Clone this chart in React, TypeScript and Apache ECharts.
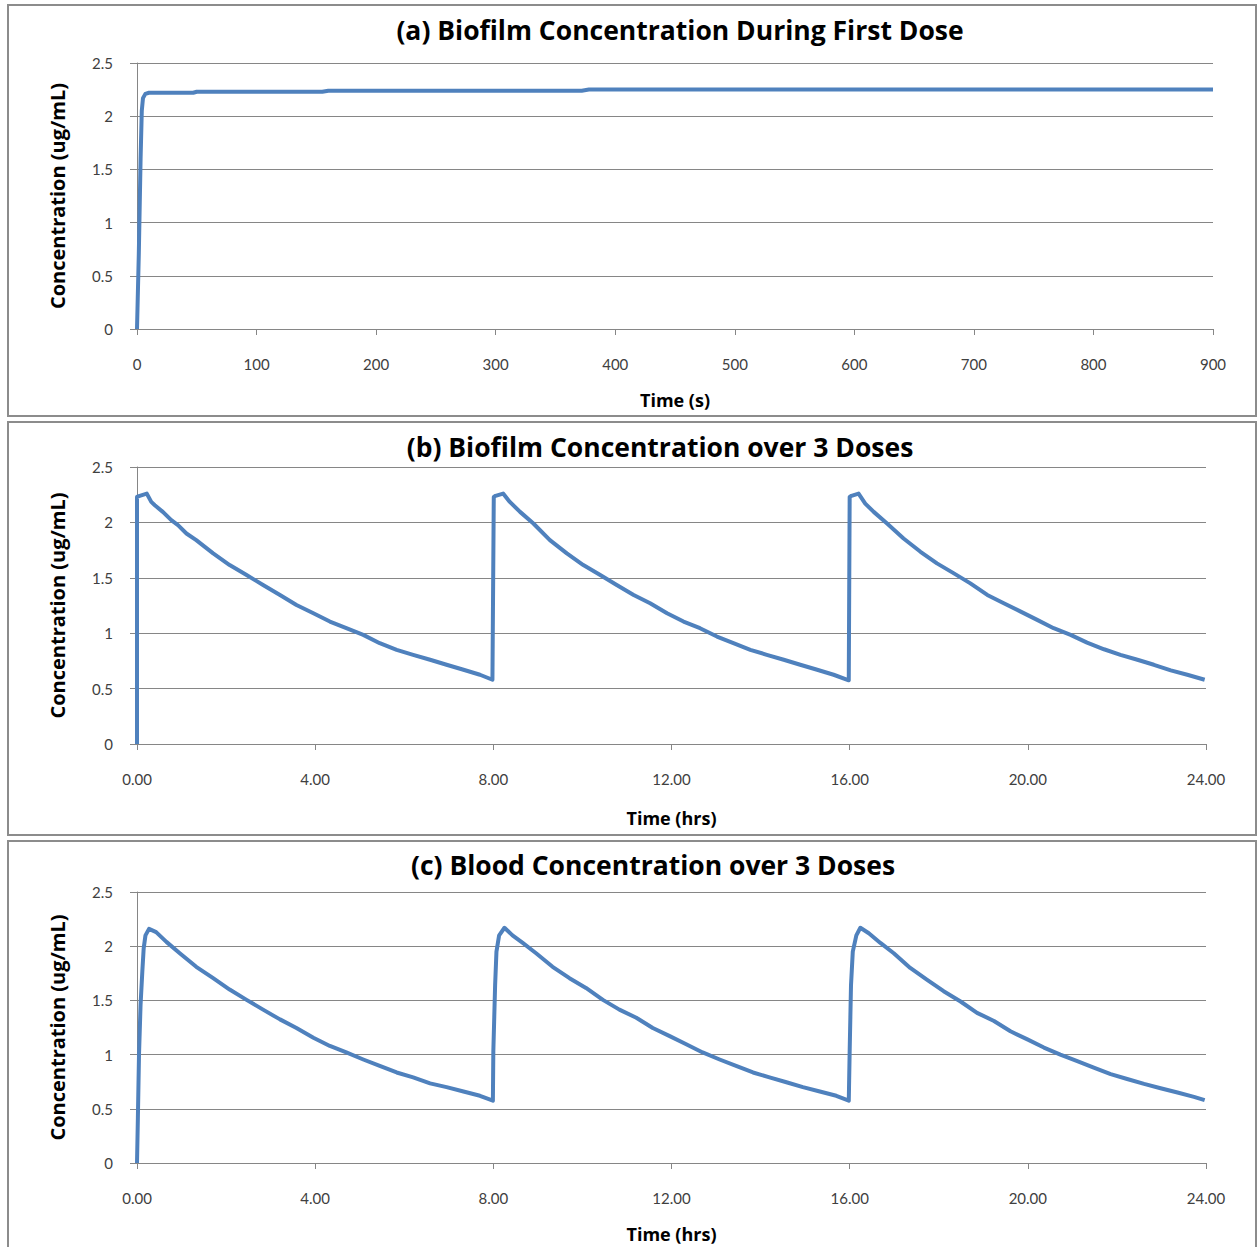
import React, { useEffect, useRef } from "react";
import * as echarts from "echarts";

// ---- Data ----
// (a) Biofilm concentration during first dose: [time (s), concentration (ug/mL)]
const firstDoseBiofilm: [number, number][] = [
  [0, 0], [1.5, 0.7], [3, 1.6], [4, 2.05], [5, 2.17], [7, 2.21], [10, 2.22],
  [47, 2.22], [50, 2.23], [155, 2.23], [160, 2.24], [372, 2.24], [378, 2.25], [900, 2.25],
];

// (b) Biofilm concentration over 3 doses: [time (hrs), concentration]
const biofilmThreeDoses: [number, number][] = [
  [0, 0], [0, 2.23], [0.06, 2.24], [0.22, 2.26], [0.32, 2.185], [0.4, 2.155], [0.58, 2.095],
  [0.77, 2.02], [0.92, 1.975], [1.11, 1.9], [1.33, 1.84], [1.71, 1.72], [2.08, 1.615],
  [2.46, 1.525], [2.83, 1.435], [3.21, 1.345], [3.58, 1.255], [3.96, 1.18], [4.33, 1.105],
  [4.7, 1.045], [5.08, 0.985], [5.45, 0.91], [5.83, 0.85], [6.2, 0.805], [6.58, 0.76],
  [6.95, 0.715], [7.33, 0.67], [7.7, 0.625], [7.98, 0.58],
  [8.01, 2.23], [8.05, 2.24], [8.22, 2.26], [8.37, 2.185], [8.6, 2.095], [8.9, 1.99],
  [9.27, 1.84], [9.65, 1.72], [10.02, 1.615], [10.4, 1.525], [10.77, 1.435], [11.15, 1.345],
  [11.52, 1.27], [11.9, 1.18], [12.27, 1.105], [12.64, 1.045], [13.02, 0.97], [13.39, 0.91],
  [13.77, 0.85], [14.14, 0.805], [14.52, 0.76], [14.89, 0.715], [15.27, 0.67], [15.64, 0.625],
  [15.98, 0.575],
  [16.0, 2.23], [16.04, 2.24], [16.2, 2.26], [16.35, 2.17], [16.54, 2.095], [16.84, 1.99],
  [17.21, 1.855], [17.59, 1.735], [17.96, 1.63], [18.34, 1.54], [18.71, 1.45], [19.09, 1.345],
  [19.46, 1.27], [19.84, 1.195], [20.21, 1.12], [20.58, 1.045], [20.96, 0.985], [21.33, 0.915],
  [21.71, 0.855], [22.08, 0.805], [22.46, 0.76], [22.83, 0.715], [23.21, 0.665], [23.58, 0.625],
  [23.97, 0.58],
];

// (c) Blood concentration over 3 doses: [time (hrs), concentration]
const bloodThreeDoses: [number, number][] = [
  [0, 0], [0.02, 0.42], [0.045, 1.0], [0.08, 1.46], [0.12, 1.77], [0.15, 1.98], [0.19, 2.1],
  [0.27, 2.16], [0.43, 2.13], [0.66, 2.04], [0.96, 1.935], [1.33, 1.81], [1.71, 1.705],
  [2.08, 1.6], [2.46, 1.505], [2.83, 1.415], [3.21, 1.325], [3.58, 1.245], [3.96, 1.155],
  [4.33, 1.08], [4.7, 1.02], [5.08, 0.955], [5.45, 0.895], [5.83, 0.835], [6.2, 0.79],
  [6.58, 0.735], [6.95, 0.7], [7.33, 0.66], [7.7, 0.62], [7.99, 0.575],
  [8.0, 1.03], [8.04, 1.64], [8.07, 1.95], [8.13, 2.1], [8.25, 2.17], [8.43, 2.1], [8.66, 2.03],
  [8.96, 1.935], [9.33, 1.81], [9.71, 1.705], [10.08, 1.615], [10.46, 1.505], [10.83, 1.415],
  [11.21, 1.34], [11.58, 1.245], [11.96, 1.17], [12.33, 1.095], [12.7, 1.02], [13.08, 0.955],
  [13.45, 0.895], [13.83, 0.835], [14.2, 0.79], [14.58, 0.745], [14.95, 0.7], [15.33, 0.66],
  [15.7, 0.62], [15.98, 0.575],
  [16.0, 1.03], [16.03, 1.64], [16.07, 1.95], [16.15, 2.1], [16.24, 2.17], [16.43, 2.12],
  [16.69, 2.03], [16.99, 1.935], [17.36, 1.8], [17.74, 1.69], [18.11, 1.585], [18.49, 1.49],
  [18.86, 1.385], [19.24, 1.31], [19.61, 1.215], [19.99, 1.14], [20.36, 1.065], [20.73, 1.0],
  [21.11, 0.94], [21.48, 0.88], [21.86, 0.82], [22.23, 0.775], [22.61, 0.73], [22.98, 0.69],
  [23.36, 0.65], [23.73, 0.61], [23.97, 0.58],
];

const panelTitles = [
  "(a) Biofilm Concentration During First Dose",
  "(b) Biofilm Concentration over 3 Doses",
  "(c) Blood Concentration over 3 Doses",
];
const xAxisTitles = ["Time (s)", "Time (hrs)", "Time (hrs)"];
const yAxisTitle = "Concentration (ug/mL)";

const FONT = 'Lato, "Open Sans", sans-serif';
const BOLD_FONT = '"Open Sans", Lato, sans-serif';
const GRAY = "#868686";
const LINE_BLUE = "#4f81bd";

export default function App() {
  const ref = useRef<HTMLDivElement>(null);

  useEffect(() => {
    document.body.style.margin = "0";
    if (!ref.current) return;
    const chart = echarts.init(ref.current, null, { renderer: "svg" });

    const grids = [
      { left: 137, top: 63, width: 1076, height: 266 },
      { left: 137, top: 467, width: 1069, height: 277 },
      { left: 137, top: 892, width: 1069, height: 271 },
    ];
    const titlePos = [
      { x: 680, y: 30 },
      { x: 660, y: 447 },
      { x: 653, y: 865 },
    ];
    const borders = [
      { y: 5, h: 411 },
      { y: 422, h: 413 },
      { y: 841, h: 420 },
    ];

    const xAxes = [0, 1, 2].map((i) => ({
      type: "value",
      gridIndex: i,
      min: 0,
      max: i === 0 ? 900 : 24,
      interval: i === 0 ? 100 : 4,
      name: xAxisTitles[i],
      nameLocation: "middle",
      nameGap: i === 1 ? 65 : 62,
      nameTextStyle: { fontFamily: BOLD_FONT, fontWeight: "bold", fontSize: 18, color: "#000" },
      axisLine: { show: true, lineStyle: { color: GRAY, width: 1 } },
      axisTick: { show: true, length: 6, lineStyle: { color: GRAY } },
      axisLabel: {
        margin: 27,
        fontFamily: FONT,
        fontSize: 15,
        color: "#404040",
        formatter: (v: number) => (i === 0 ? String(v) : v.toFixed(2)),
      },
      splitLine: { show: false },
    }));

    const yAxes = [0, 1, 2].map((i) => ({
      type: "value",
      gridIndex: i,
      min: 0,
      max: 2.5,
      interval: 0.5,
      name: yAxisTitle,
      nameLocation: "middle",
      nameGap: 70,
      nameTextStyle: { fontFamily: BOLD_FONT, fontWeight: "bold", fontSize: 20, color: "#000" },
      axisLine: { show: true, lineStyle: { color: GRAY, width: 1 } },
      axisTick: { show: true, length: 7, lineStyle: { color: GRAY } },
      axisLabel: { margin: 24, fontFamily: FONT, fontSize: 15, color: "#404040" },
      splitLine: { show: true, lineStyle: { color: GRAY, width: 1 } },
    }));

    const dataSets = [firstDoseBiofilm, biofilmThreeDoses, bloodThreeDoses];

    const graphic: any[] = [];
    borders.forEach((b) => {
      graphic.push({
        type: "rect",
        shape: { x: 8, y: b.y, width: 1248, height: b.h },
        style: { fill: "none", stroke: "#8c8c8c", lineWidth: 2 },
        silent: true,
        z: -1,
      });
    });
    titlePos.forEach((p, i) => {
      graphic.push({
        type: "text",
        x: p.x,
        y: p.y,
        style: {
          text: panelTitles[i],
          fontFamily: BOLD_FONT,
          fontWeight: "bold",
          fontSize: 26.5,
          fill: "#000",
          align: "center",
          verticalAlign: "middle",
        },
      });
    });

    chart.setOption({
      animation: false,
      backgroundColor: "#fff",
      grid: grids,
      xAxis: xAxes,
      yAxis: yAxes,
      graphic,
      series: dataSets.map((d, i) => ({
        type: "line",
        xAxisIndex: i,
        yAxisIndex: i,
        data: d,
        showSymbol: false,
        symbol: "none",
        smooth: false,
        lineStyle: { color: LINE_BLUE, width: 4, join: "round" },
        silent: true,
      })),
    });

    return () => chart.dispose();
  }, []);

  return <div ref={ref} style={{ width: 1257, height: 1247 }} />;
}
